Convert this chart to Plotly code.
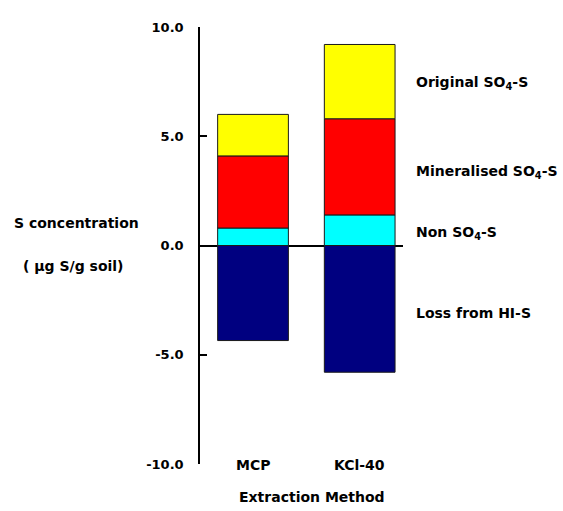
import plotly.graph_objects as go

# Extraction methods and S pools (µg S/g soil)
methods = ["MCP", "KCl-40"]
method_labels = ["MCP", "KCl-40"]
non_so4 = [0.8, 1.4]
mineralised_so4 = [3.3, 4.4]
original_so4 = [1.9, 3.4]
loss_hi_s = [-4.35, -5.8]

y_ticks = [-10, -5, 0, 5, 10]
y_tick_text = ["-10.0", "-5.0", "0.0", "5.0", "10.0"]

pool_labels = [
    ("Original SO<sub>4</sub>-S", 83),
    ("Mineralised SO<sub>4</sub>-S", 172),
    ("Non SO<sub>4</sub>-S", 233),
    ("Loss from HI-S", 313),
]

FONT = "DejaVu Sans"
x_pos = list(range(len(methods)))
line = dict(color="#1a1a1a", width=1)

fig = go.Figure()
for vals, color, name in [
    (loss_hi_s, "#000080", "Loss from HI-S"),
    (non_so4, "#00FFFF", "Non SO4-S"),
    (mineralised_so4, "#FF0000", "Mineralised SO4-S"),
    (original_so4, "#FFFF00", "Original SO4-S"),
]:
    fig.add_trace(go.Bar(x=x_pos, y=vals, name=name, width=0.663,
                         marker=dict(color=color, line=line)))

W, H = 563, 511
ml, mr, mt, mb = 200, 160, 27, 47
fig.update_layout(
    width=W, height=H, barmode="relative", showlegend=False,
    margin=dict(l=ml, r=mr, t=mt, b=mb),
    plot_bgcolor="white", paper_bgcolor="white",
    font=dict(family=FONT, size=14, color="black"),
    xaxis=dict(range=[-0.497, 1.406], showticklabels=False, ticks="",
               showgrid=False, zeroline=False, showline=False),
    yaxis=dict(range=[-10, 10], tickvals=y_ticks, ticktext=y_tick_text,
               ticks="inside", ticklen=7, tickwidth=1.5, tickcolor="black",
               showline=True, linewidth=1.5, linecolor="black",
               showgrid=False, zeroline=True, zerolinecolor="black",
               zerolinewidth=1.5, ticklabelstandoff=12,
               tickfont=dict(family=FONT, size=13, color="black", weight="bold")),
)

def px_to_paper_y(py):
    return 1 - (py - mt) / (H - mt - mb)

def px_to_paper_x(px):
    return (px - ml) / (W - ml - mr)

bold = dict(family=FONT, size=14, color="black", weight="bold")

for xp, lab in zip(x_pos, method_labels):
    fig.add_annotation(x=xp, xref="x", y=px_to_paper_y(465), yref="paper",
                       text=lab, showarrow=False, font=bold,
                       xanchor="center", yanchor="middle")

fig.add_annotation(x=px_to_paper_x(312), xref="paper", y=px_to_paper_y(497),
                   yref="paper", text="Extraction Method", showarrow=False,
                   font=bold, xanchor="center", yanchor="middle")

fig.add_annotation(x=px_to_paper_x(12), xref="paper", y=px_to_paper_y(223),
                   yref="paper", text="S concentration", showarrow=False,
                   font=bold, xanchor="left", yanchor="middle")
fig.add_annotation(x=px_to_paper_x(73), xref="paper", y=px_to_paper_y(266),
                   yref="paper", text="( µg S/g soil)", showarrow=False,
                   font=bold, xanchor="center", yanchor="middle")

for text, py in pool_labels:
    fig.add_annotation(x=px_to_paper_x(414), xref="paper", y=px_to_paper_y(py),
                       yref="paper", text=text, showarrow=False, font=bold,
                       xanchor="left", yanchor="middle")

fig.write_html("out.html")
